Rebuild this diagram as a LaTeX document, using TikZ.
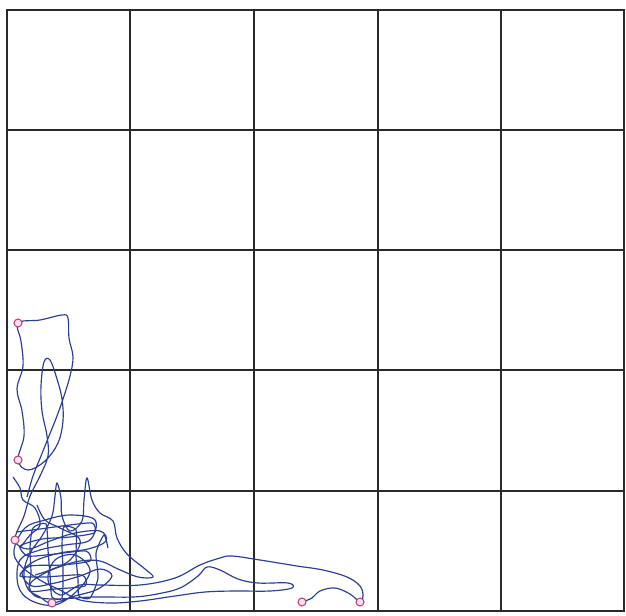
\documentclass[tikz,border=0pt]{standalone}
\usepackage{xcolor}
\usepackage{tikz}
\definecolor{gridgray}{HTML}{2A2A2A}
\definecolor{trackblue}{HTML}{2B3F94}
\definecolor{ringmagenta}{HTML}{C0407E}
\tikzset{
  gridline/.style={draw=gridgray, line width=1.4pt},
  frameline/.style={draw=gridgray, line width=2.4pt},
  track/.style={draw=trackblue, line width=1pt, smooth, tension=0.6},
  stopring/.style={draw=ringmagenta, fill=ringmagenta!15, line width=0.9pt},
}

\begin{document}
\begin{tikzpicture}[x=0.03cm, y=-0.03cm]
    \useasboundingbox[fill=white] (0,0) rectangle (626,615);

    % Grid 5 x 5
    \foreach \gx in {130,254,378,501}
        \draw[gridline] (\gx,10) -- (\gx,611);
    \foreach \gy in {130,250,370,491}
        \draw[gridline] (7,\gy) -- (624,\gy);
    \draw[frameline] (7,10) rectangle (624,611);

    % Track
    \draw[track] plot coordinates {
        (27,497) (33,476) (41,456) (49,436) (57,416) (64,396) (70,376) (73,357)
        (69,338) (68,318) (62,315) (40,320) (18,323)
        (21,341) (23,366) (17,389) (22,411) (24,436) (18,460)
        (28,470) (45,461) (58,443) (63,421) (62,399) (57,379) (50,360) (44,362)
        (41,386) (42,411) (47,436) (48,456) (40,476) (30,496) (24,516) (15,540)
        (28,549) (50,541) (75,533) (100,531) (106,541) (88,549) (60,553)
        (35,561) (22,573) (32,586) (55,583) (80,576) (100,569) (112,576)
        (98,589) (75,596) (52,603)
        (40,597) (28,589) (24,572) (30,553) (42,536) (52,516) (55,496) (57,483)
        (61,498) (62,516) (70,531) (82,521) (84,500) (87,478) (92,500)
        (100,513) (113,521) (117,538) (127,554) (145,569) (153,577) (138,577)
        (118,569) (100,561) (80,561) (62,566) (45,573) (30,584) (35,596)
        (55,599) (93,597) (133,597) (157,594) (180,588) (198,576) (207,567)
        (220,570) (238,579) (258,583) (288,583) (292,588) (270,591) (235,591)
        (205,592) (175,596) (140,601) (110,603) (80,600) (60,590) (40,580)
        (20,565) (14,550) (25,528) (45,520) (70,515) (95,520) (90,540)
        (65,545) (40,550) (20,560) (18,585) (30,600) (55,605) (78,590)
        (90,570) (75,555) (55,560) (48,580) (60,595) (80,585) (100,585)
        (140,585) (175,578) (200,565) (220,558) (232,556) (260,560) (297,566)
        (323,570) (347,577) (360,586) (363,596) (360,602)
        (350,594) (335,588) (320,591) (312,598) (302,602)
    };
    \draw[track] plot coordinates {
        (13,477) (20,488) (23,500) (35,508) (40,525) (30,535) (20,548)
    };
    \draw[track] plot coordinates {
        (37,505) (45,520) (60,528) (80,540) (70,560) (50,570) (35,575)
    };
    % Dense part near the corner
    \draw[track, tension=0.4] plot coordinates {
        (16,532) (40,529) (62,526) (92,523) (94,533) (70,537) (42,539)
        (20,546) (28,556) (55,554) (86,551) (90,561) (62,565) (30,566)
        (20,576) (45,577) (82,575) (85,586) (55,589) (30,591) (31,572)
        (30,548) (33,528) (46,524) (48,550) (50,575) (52,597) (62,598)
        (63,570) (62,545) (64,527) (76,530) (76,556) (78,580) (79,596)
        (90,598) (98,578) (96,553) (104,535) (108,548)
    };

    % Stops
    \foreach \sx/\sy in {18/323, 18/460, 15/540, 52/603, 302/602, 360/602}
        \draw[stopring] (\sx,\sy) circle[radius=4];
\end{tikzpicture}
\end{document}
